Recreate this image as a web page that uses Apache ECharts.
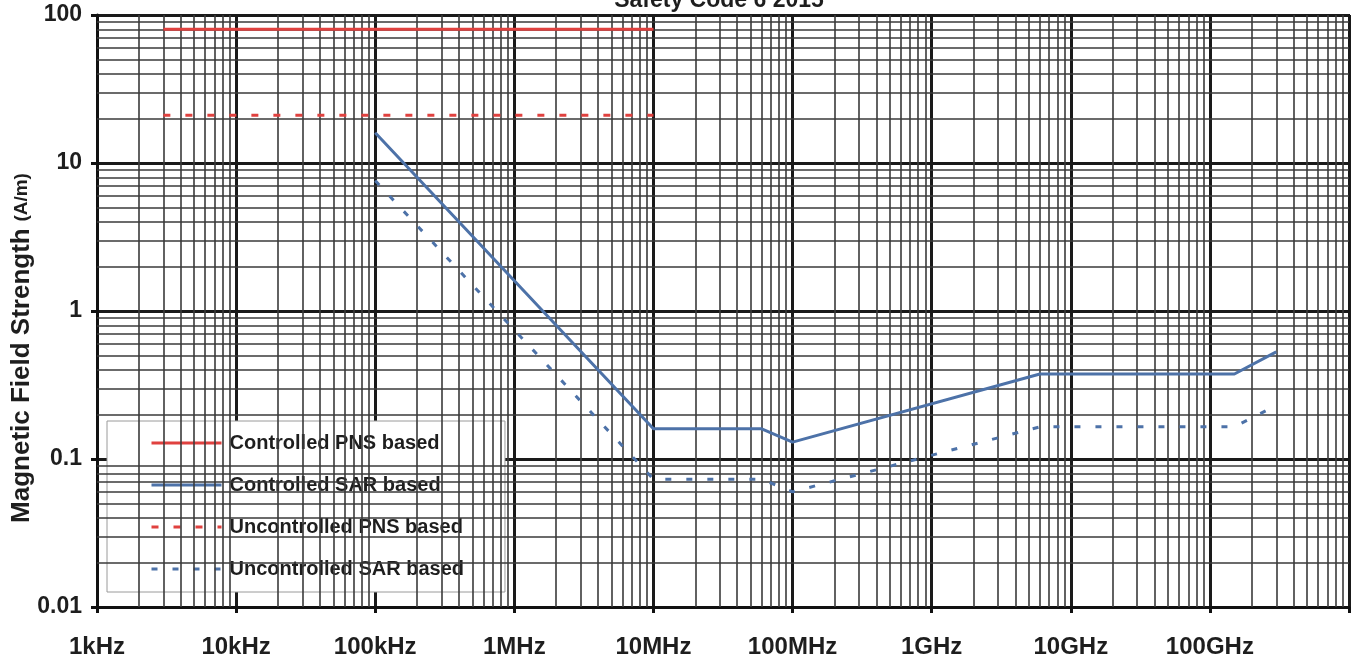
<!DOCTYPE html>
<html>
<head>
<meta charset="utf-8">
<script src="https://cdn.jsdelivr.net/npm/echarts@6/dist/echarts.min.js"></script>
<style>
  html, body { margin: 0; padding: 0; background: #fff; }
  #chart { width: 1354px; height: 662px; }
</style>
</head>
<body>
<div id="chart"></div>
<script>
// Exposure limits, magnetic field strength (A/m) versus frequency (Hz)
const titleText = 'Safety Code 6 2015';
const yAxisTitle = 'Magnetic Field Strength';
const yAxisUnit = '(A/m)';

const seriesNames = [
  'Controlled PNS based',
  'Controlled SAR based',
  'Uncontrolled PNS based',
  'Uncontrolled SAR based'
];

const pnsFreq = [3e3, 1e7];
const controlledPns = [80, 80];
const uncontrolledPns = [21, 21];

const sarFreq = [1e5, 1e7, 6e7, 1e8, 6e9, 1.5e11, 3e11];
const controlledSar = [16, 0.16, 0.16, 0.13, 0.375, 0.375, 0.53];
const uncontrolledSar = [7.6, 0.073, 0.073, 0.06, 0.165, 0.165, 0.23];

// decade tick labels, lowest decade first
const xTickLabels = ['1kHz', '10kHz', '100kHz', '1MHz', '10MHz', '100MHz', '1GHz', '10GHz', '100GHz', ''];
const yTickLabels = ['0.01', '0.1', '1', '10', '100'];
const xMinExp = 3, xMaxExp = 12;
const yMinExp = -2, yMaxExp = 2;

const pair = (xs, ys) => xs.map((x, i) => [x, ys[i]]);

// minor log grid lines at 2..9 times each decade
const minorX = [];
for (let e = xMinExp; e < xMaxExp; e++) for (let m = 2; m <= 9; m++) minorX.push({ xAxis: m * Math.pow(10, e) });
const minorY = [];
for (let e = yMinExp; e < yMaxExp; e++) for (let m = 2; m <= 9; m++) minorY.push({ yAxis: m * Math.pow(10, e) });

const RED = '#e0413f';
const BLUE = '#4d72a8';
const TEXT = '#1e1e1e';
const FONT = 'Liberation Sans, Arial, sans-serif';

const chart = echarts.init(document.getElementById('chart'));
chart.setOption({
  animation: false,
  backgroundColor: '#fff',
  title: {
    text: titleText,
    left: 714,
    textAlign: 'center',
    top: -16,
    textStyle: { fontFamily: FONT, fontWeight: 'bold', fontSize: 23, color: TEXT }
  },
  grid: {
    left: 97, right: 5, top: 15, bottom: 55,
    outerBoundsMode: 'none',
    containLabel: false,
    show: true, borderColor: '#111', borderWidth: 2, backgroundColor: '#fff'
  },
  legend: {
    data: seriesNames,
    orient: 'vertical',
    left: 107,
    top: 421,
    backgroundColor: '#fff',
    borderColor: '#9a9a9a',
    borderWidth: 1,
    padding: [12, 41, 13, 43],
    itemGap: 22,
    itemWidth: 70,
    itemHeight: 14,
    itemStyle: { color: 'transparent', borderColor: 'transparent', borderWidth: 0 },
    lineStyle: { width: 3 },
    textStyle: { fontFamily: FONT, fontWeight: 'bold', fontSize: 20, color: TEXT, padding: [0, 0, 0, 3] }
  },
  xAxis: {
    type: 'log',
    logBase: 10,
    min: Math.pow(10, xMinExp),
    max: Math.pow(10, xMaxExp),
    splitNumber: 9,
    axisLine: { show: true, lineStyle: { color: '#111', width: 3 } },
    axisTick: { show: true, length: 6, lineStyle: { color: '#111', width: 3 } },
    axisLabel: {
      margin: 28,
      fontFamily: FONT, fontWeight: 'bold', fontSize: 24, color: TEXT,
      formatter: v => xTickLabels[Math.round(Math.log10(v)) - xMinExp] || ''
    },
    splitLine: { show: true, lineStyle: { color: '#1a1a1a', width: 3 } }
  },
  yAxis: {
    type: 'log',
    logBase: 10,
    min: Math.pow(10, yMinExp),
    max: Math.pow(10, yMaxExp),
    splitNumber: 4,
    name: '{t|' + yAxisTitle + '}  {u|' + yAxisUnit + '}',
    nameLocation: 'middle',
    nameGap: 62,
    nameMoveOverlap: false,
    nameRotate: 90,
    nameTextStyle: {
      padding: [0, 74, 0, 0],
      rich: {
        t: { fontFamily: FONT, fontWeight: 'bold', fontSize: 26, color: TEXT },
        u: { fontFamily: FONT, fontWeight: 'bold', fontSize: 19, color: TEXT }
      }
    },
    axisLine: { show: true, lineStyle: { color: '#111', width: 3 } },
    axisTick: { show: true, length: 6, lineStyle: { color: '#111', width: 3 } },
    axisLabel: {
      margin: 15,
      fontFamily: FONT, fontWeight: 'bold', fontSize: 23, color: TEXT,
      formatter: v => yTickLabels[Math.round(Math.log10(v)) - yMinExp] || ''
    },
    splitLine: { show: true, lineStyle: { color: '#1a1a1a', width: 3 } }
  },
  series: [
    {
      name: 'minor-grid',
      type: 'line',
      data: [],
      silent: true,
      z: 1,
      markLine: {
        silent: true,
        symbol: 'none',
        animation: false,
        label: { show: false },
        lineStyle: { color: '#3a3a3a', width: 1.6, type: 'solid' },
        emphasis: { disabled: true },
        data: minorX.concat(minorY)
      }
    },
    {
      name: seriesNames[0], type: 'line', z: 5, symbol: 'none',
      data: pair(pnsFreq, controlledPns),
      lineStyle: { color: RED, width: 3 }, itemStyle: { color: RED }
    },
    {
      name: seriesNames[1], type: 'line', z: 5, symbol: 'none',
      data: pair(sarFreq, controlledSar),
      lineStyle: { color: BLUE, width: 3 }, itemStyle: { color: BLUE }
    },
    {
      name: seriesNames[2], type: 'line', z: 5, symbol: 'none',
      data: pair(pnsFreq, uncontrolledPns),
      lineStyle: { color: RED, width: 3, type: [7, 15] }, itemStyle: { color: RED }
    },
    {
      name: seriesNames[3], type: 'line', z: 5, symbol: 'none',
      data: pair(sarFreq, uncontrolledSar),
      lineStyle: { color: BLUE, width: 3, type: [6, 15] }, itemStyle: { color: BLUE }
    }
  ]
});
</script>
</body>
</html>
